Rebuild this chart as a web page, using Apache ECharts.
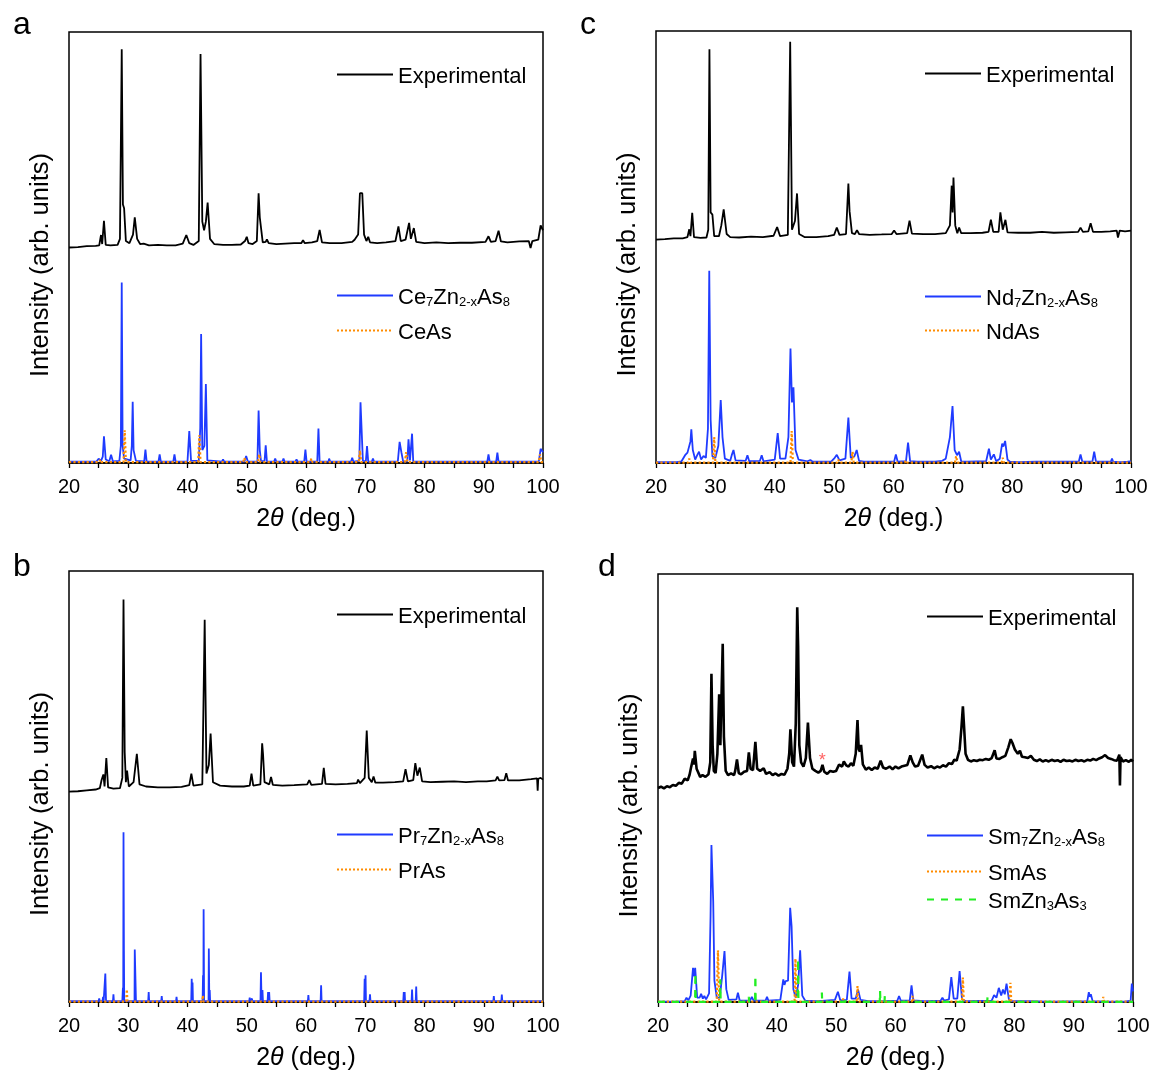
<!DOCTYPE html>
<html><head><meta charset="utf-8">
<script src="https://cdn.jsdelivr.net/npm/echarts@6/dist/echarts.min.js"></script>
<style>html,body{margin:0;padding:0;background:#fff}#c{width:1156px;height:1072px}</style>
</head><body><div id="c"></div>
<script>
// ---------- tick labels / axis ----------
const xTicks = [20, 30, 40, 50, 60, 70, 80, 90, 100];
const panelLetters = ['a', 'c', 'b', 'd'];

// ---------- panel a (Ce) ----------
const expA = [[20,50.0],[21.5,50.1],[23,50.3],[24.5,50.4],[25.1,50.5],[25.4,52.9],[25.6,50.8],[25.9,56.2],[26.2,50.6],[27,50.5],[28.2,50.6],[28.6,52],[28.9,96.0],[29.1,60],[29.3,59.1],[29.6,51.5],[30.2,51],[30.8,53],[31.1,57.0],[31.5,52],[32,50.8],[32.6,50.9],[33.5,50.5],[35,50.6],[36.5,50.5],[38,50.5],[39.2,50.9],[39.8,52.9],[40.3,51],[41,50.6],[41.9,51.5],[42.2,94.9],[42.5,56],[42.8,54],[43.1,56],[43.4,60.4],[43.8,52],[44.5,50.8],[46,50.6],[47.5,50.6],[49,50.7],[49.7,51.5],[50.0,52.5],[50.3,51],[51,50.8],[51.7,51.5],[52.0,62.6],[52.2,57],[52.3,56.8],[52.7,51.2],[53.2,51.3],[53.4,51.9],[53.7,51],[55,50.8],[56.5,50.9],[58,51],[59.2,51],[59.5,51.7],[59.8,51],[61,51.2],[61.9,51.5],[62.3,54.1],[62.7,51.2],[64,51],[66,51],[67.8,51.3],[68.2,51.8],[68.8,53],[69.1,62.6],[69.5,62.6],[69.8,53],[70.2,51.5],[70.5,52.5],[70.8,51.2],[72,51],[73.5,51.2],[75.1,51.5],[75.6,54.9],[76,51.5],[76.8,51.8],[77.4,55.7],[77.7,52],[78.2,54.5],[78.6,51.3],[80,51],[82,51.2],[84,51],[86,51.1],[88,51.1],[90.3,51.3],[90.8,52.6],[91.2,51.3],[92,51.5],[92.5,53.9],[92.9,51.4],[94,51.2],[96,51.4],[97.6,51.5],[97.9,49.9],[98.2,51.5],[99.2,51.8],[99.6,55.1],[100,54]];
const calcA = [[20,0.3],[24.6,0.3],[25.0,1.0],[25.4,0.5],[25.7,1.5],[25.9,6.2],[26.2,0.8],[26.8,0.4],[27.1,1.9],[27.4,0.4],[28.5,0.5],[28.75,4],[28.9,41.9],[29.05,4],[29.3,1],[30.4,0.6],[30.6,4],[30.75,14.2],[30.9,3],[31.3,0.5],[32.7,0.4],[32.9,3.1],[33.1,0.4],[35.1,0.3],[35.3,2.0],[35.5,0.3],[37.6,0.3],[37.8,2.0],[38.0,0.3],[40.0,0.4],[40.3,7.4],[40.6,0.5],[41.9,0.5],[42.15,8],[42.3,29.9],[42.5,3],[42.85,4],[43.1,18.3],[43.35,0.6],[45.8,0.3],[46.0,0.8],[46.2,0.3],[49.6,0.3],[49.9,1.6],[50.2,0.3],[51.8,0.4],[52.0,12.2],[52.2,3],[52.4,0.5],[53.0,0.4],[53.2,4.1],[53.4,0.4],[54.6,0.3],[54.8,1.0],[55,0.3],[56,0.3],[56.2,1.0],[56.4,0.3],[58.2,0.3],[58.4,0.8],[58.6,0.3],[59.7,0.3],[59.9,3.1],[60.1,0.3],[61.9,0.3],[62.1,8.0],[62.3,0.3],[63.8,0.3],[63.9,1],[64.1,0.3],[67.6,0.3],[67.8,1.2],[68,0.3],[69.0,0.5],[69.2,14.1],[69.4,14.1],[69.6,0.5],[70.1,0.4],[70.3,3.9],[70.5,0.3],[71.1,0.3],[71.3,1],[71.5,0.3],[75.5,0.4],[75.8,4.9],[76.1,2.5],[76.4,0.3],[77.1,0.4],[77.3,5.5],[77.55,0.6],[77.75,0.8],[77.9,6.8],[78.1,0.3],[79.8,0.3],[80.0,0.6],[80.2,0.3],[90.6,0.3],[90.8,2.0],[91.0,0.3],[92.1,0.3],[92.3,2.4],[92.5,0.3],[96.3,0.3],[96.5,0.6],[96.7,0.3],[99.3,0.4],[99.6,3.3],[100,2.5]];
const ceAs = [[20,0.2],[25.1,0.2],[25.3,0.8],[25.5,0.2],[29.2,0.2],[29.4,7.6],[29.6,0.2],[41.8,0.2],[42.0,6.4],[42.2,0.2],[49.4,0.2],[49.6,1.2],[49.8,0.2],[51.9,0.2],[52.1,2.0],[52.3,0.2],[60.7,0.2],[60.9,1.0],[61.1,0.2],[68.9,0.2],[69.1,2.9],[69.3,0.2],[76.7,0.2],[76.9,2.5],[77.1,0.2],[91.2,0.2],[91.4,0.5],[91.6,0.2],[99.3,0.2],[99.5,2.0],[99.7,0.2],[100,0.2]];

// ---------- panel c (Nd) ----------
const expC = [[20,51.7],[21.5,51.8],[23,52.0],[24.5,52.0],[25.3,52.3],[25.6,54.1],[25.8,52.5],[26.1,57.9],[26.4,52.3],[27.5,52.1],[28.5,52.2],[28.8,54],[29.0,95.8],[29.2,58],[29.5,57.5],[29.8,52.5],[30.6,52.5],[31.0,55],[31.4,58.7],[31.9,53],[32.5,52.3],[34,52.2],[36,52.4],[38,52.3],[39.8,52.6],[40.4,54.6],[40.9,52.5],[42.2,52.8],[42.6,97.5],[42.9,54],[43.4,56],[43.75,62.4],[44.1,53],[45,52.3],[47,52.3],[49,52.5],[50.0,52.8],[50.45,54.5],[50.9,52.8],[52.0,53],[52.4,64.7],[52.6,58.3],[53.0,53.2],[53.5,53],[53.85,53.9],[54.2,53],[56,52.8],[58,52.9],[59.7,53],[60.1,53.8],[60.5,53],[62.3,53.2],[62.7,56.1],[63.1,53.1],[65,53],[67,53],[68.8,53.2],[69.5,55],[69.8,64.2],[69.95,58],[70.1,66.1],[70.4,55],[70.75,53.2],[71.05,54.5],[71.4,53.2],[73,53.2],[75,53.3],[76.0,53.5],[76.4,56.3],[76.8,53.5],[77.7,53.5],[78.0,58.0],[78.4,54],[78.85,56.3],[79.2,53.4],[81,53.3],[83,53.3],[85,53.5],[87,53.3],[89,53.4],[91.1,53.5],[91.5,54.5],[91.9,53.5],[92.8,53.6],[93.2,55.5],[93.6,53.5],[95,53.5],[96.5,53.6],[97.6,53.8],[97.8,52.2],[98.1,53.8],[98.4,54],[99,53.6],[100,53.8]];
const calcC = [[20,0.2],[23.5,0.2],[24.3,0.4],[24.9,1.8],[25.3,2.4],[25.6,2.0],[25.8,5],[25.95,7.8],[26.2,3],[26.6,0.8],[27.0,2.0],[27.25,2.6],[27.6,0.8],[28.0,1.6],[28.4,1.2],[28.75,8],[28.97,44.5],[29.2,10],[29.5,1.5],[30.0,1.2],[30.5,4],[30.9,14.6],[31.2,6],[31.6,1],[32.5,0.5],[32.8,2],[33.05,3.0],[33.4,0.6],[35.1,0.5],[35.4,1.8],[35.7,0.4],[37.5,0.5],[37.8,1.8],[38.1,0.4],[40.0,0.8],[40.5,6.9],[40.9,1],[41.8,1],[42.3,6],[42.65,26.5],[42.9,14],[43.15,17.5],[43.5,3],[44.0,0.8],[45.5,0.4],[46.0,0.7],[46.4,0.3],[49.5,0.3],[50.1,1.2],[50.45,1.9],[50.9,0.6],[51.9,1],[52.4,10.5],[52.8,1.2],[53.4,1.5],[53.8,3.0],[54.2,0.5],[55.0,0.3],[55.2,0.7],[55.5,0.3],[56.3,0.3],[56.5,0.6],[56.8,0.3],[58.3,0.3],[58.6,0.5],[58.9,0.3],[60.1,0.3],[60.4,2.0],[60.7,0.3],[62.1,0.4],[62.45,4.7],[62.8,0.4],[64,0.3],[67,0.3],[68.2,0.5],[68.8,1],[69.5,6],[69.94,13.2],[70.3,3],[70.7,1.8],[71.05,2.6],[71.4,0.4],[72.0,0.3],[72.2,0.7],[72.5,0.3],[75.6,0.4],[76.07,3.3],[76.4,0.8],[76.9,2.0],[77.3,0.4],[77.9,1],[78.3,4.5],[78.5,3.8],[78.8,5.1],[79.2,0.8],[79.6,0.3],[81,0.2],[84,0.3],[91.2,0.3],[91.5,2.0],[91.8,0.3],[93.5,0.3],[93.8,2.6],[94.1,0.3],[96.6,0.3],[96.8,1.0],[97.0,0.3],[98.0,0.2],[98.2,0.5],[98.4,0.2],[99.4,0.3],[99.6,0.6],[100,0.4]];
const ndAs = [[20,0.1],[25.4,0.1],[25.6,1.0],[25.8,0.1],[29.6,0.1],[29.8,6.0],[30.0,0.1],[42.65,0.1],[42.85,7.4],[43.05,0.1],[50.5,0.1],[50.7,0.8],[50.9,0.1],[52.9,0.1],[53.1,2.6],[53.3,0.1],[61.9,0.1],[62.1,0.6],[62.3,0.1],[70.35,0.1],[70.55,1.6],[70.75,0.1],[78.2,0.1],[78.4,1.2],[78.6,0.1],[100,0.1]];

// ---------- panel b (Pr) ----------
const expB = [[20,48.8],[21.5,48.9],[23,49.1],[24.5,49.3],[25.2,49.6],[25.5,51.5],[25.8,52.8],[26.0,50],[26.3,56.6],[26.6,49.8],[27.5,49.5],[28.6,49.6],[29.0,52],[29.2,93.4],[29.4,58],[29.6,51],[29.8,53.7],[30.1,50],[30.9,51],[31.45,57.6],[31.9,50.5],[33,50],[35,49.8],[37,49.8],[39,49.9],[40.3,50.3],[40.65,53.0],[41,50.2],[42.5,50.5],[42.9,88.7],[43.2,53],[43.6,55],[43.9,62.3],[44.3,51],[45.5,50.2],[47.5,50],[49.5,50],[50.5,50.2],[50.8,53.0],[51.1,50.2],[52.3,50.5],[52.6,60.0],[52.75,57.5],[53.0,51],[53.8,50.5],[54.1,52.2],[54.4,50.4],[56,50.2],[58,50.3],[60.2,50.5],[60.55,51.5],[60.9,50.4],[62.7,50.6],[63.0,54.3],[63.3,50.6],[65,50.5],[67,50.6],[68.6,50.8],[68.8,51.6],[69.1,50.8],[69.9,52],[70.25,63.0],[70.6,52],[71.1,51],[71.4,52.3],[71.7,50.9],[73,50.9],[75,51],[76.4,51.2],[76.8,54.0],[77.2,51.2],[78.1,51.5],[78.45,55.4],[78.8,52.5],[79.2,54.4],[79.6,51.2],[81,51],[83,51.1],[85,51.2],[87,51],[89,51.2],[90.5,51.2],[92.0,51.4],[92.3,52.3],[92.6,51.4],[93.5,51.5],[93.8,53.1],[94.1,51.4],[96,51.4],[98,51.7],[99.0,51.9],[99.1,49.0],[99.2,51.8],[99.6,52],[100,51.6]];
const calcB = [[20,0.2],[22.5,0.2],[22.6,0.4],[22.7,0.2],[25.0,0.2],[25.1,0.8],[25.2,0.2],[25.65,0.2],[25.75,1.2],[25.85,0.2],[26.05,0.2],[26.13,6.6],[26.25,0.2],[27.42,0.2],[27.5,1.8],[27.58,0.2],[29.0,0.2],[29.1,3.3],[29.15,0.3],[29.2,39.4],[29.27,12],[29.32,0.2],[31.06,0.2],[31.1,12.2],[31.25,12.2],[31.3,0.2],[33.37,0.2],[33.45,2.3],[33.53,0.2],[35.57,0.2],[35.65,1.4],[35.73,0.2],[38.07,0.2],[38.15,1.2],[38.23,0.2],[40.63,0.2],[40.71,5.4],[40.8,0.3],[40.85,4.5],[40.92,0.2],[42.55,0.2],[42.62,6.2],[42.68,0.3],[42.72,21.5],[42.8,0.2],[43.55,0.2],[43.6,12.4],[43.68,0.3],[43.75,2.8],[43.82,0.2],[46.2,0.2],[46.3,0.5],[46.4,0.2],[50.42,0.2],[50.5,1.0],[50.58,0.2],[50.8,0.2],[50.88,0.8],[50.96,0.2],[52.32,0.2],[52.4,6.9],[52.5,0.3],[52.65,2.8],[52.73,0.2],[53.52,0.2],[53.6,2.3],[53.68,0.3],[53.78,2.3],[53.86,0.2],[54.9,0.2],[55.0,0.5],[55.1,0.2],[56.55,0.2],[56.63,0.6],[56.71,0.2],[58.1,0.2],[58.2,0.4],[58.3,0.2],[58.9,0.2],[59.0,0.4],[59.1,0.2],[60.32,0.2],[60.4,1.6],[60.48,0.2],[62.47,0.2],[62.55,3.9],[62.63,0.2],[68.0,0.2],[68.1,0.6],[68.2,0.2],[69.82,0.2],[69.9,5.4],[69.97,0.3],[70.05,6.2],[70.12,0.2],[70.72,0.2],[70.8,1.8],[70.88,0.2],[71.9,0.2],[72.0,0.3],[72.1,0.2],[76.42,0.2],[76.5,2.3],[76.57,0.3],[76.65,2.3],[76.72,0.2],[77.82,0.2],[77.9,2.9],[77.98,0.2],[78.52,0.2],[78.6,3.6],[78.68,0.2],[80.4,0.2],[80.5,0.3],[80.6,0.2],[91.62,0.2],[91.7,1.4],[91.78,0.2],[92.97,0.2],[93.05,1.7],[93.13,0.2],[97.3,0.2],[97.4,0.4],[97.5,0.2],[98.5,0.2],[98.6,0.3],[98.7,0.2],[100,0.2]];
const prAs = [[20,0.1],[29.66,0.1],[29.76,2.9],[29.86,0.1],[42.5,0.1],[42.6,1.5],[42.7,0.1],[50.2,0.1],[50.3,0.3],[50.4,0.1],[61.5,0.1],[61.6,0.3],[61.7,0.1],[69.6,0.1],[69.7,0.3],[69.8,0.1],[100,0.1]];

// ---------- panel d (Sm) ----------
const expD = [[20,50.0],[20.5,50.3],[21,49.9],[21.5,50.4],[22,50.2],[22.5,50.7],[23,50.5],[23.5,51.2],[24,51.0],[24.5,52.2],[25.0,51.8],[25.3,53],[25.6,55],[25.9,56.9],[26.05,55.5],[26.2,58.7],[26.5,54.5],[26.8,54.2],[27.1,52.6],[27.5,53.0],[28.0,52.6],[28.5,53.2],[28.8,56],[29.0,76.7],[29.2,60],[29.4,54],[29.7,53.5],[30.0,58],[30.3,71.9],[30.5,60],[30.7,60],[30.9,83.7],[31.1,62],[31.4,54],[31.8,53],[32.3,53.4],[32.8,53],[33.0,54],[33.3,56.7],[33.6,53.5],[34.0,53.2],[34.5,53.8],[35.0,54],[35.3,58.3],[35.6,54.5],[36.0,54.2],[36.4,60.8],[36.7,54.5],[37.2,54],[37.8,54.6],[38.2,53.3],[38.8,53.7],[39.3,53],[39.8,53.4],[40.3,52.9],[40.8,53.3],[41.3,53.1],[41.8,54.5],[42.1,58],[42.3,63.7],[42.6,56],[42.9,55],[43.2,65],[43.45,92.2],[43.6,83],[43.8,60],[44.1,56],[44.5,55],[44.9,57],[45.25,65.3],[45.6,57],[46.0,54.5],[46.5,54],[47.0,53.6],[47.4,54],[47.7,55.4],[48.0,53.8],[48.5,53.3],[49.0,54],[49.5,53.8],[50.0,54],[50.5,55.5],[51.0,55],[51.3,56.2],[51.7,55.3],[52.1,55],[52.5,55.8],[52.9,55.2],[53.3,58],[53.6,65.9],[53.8,59],[54.0,58.5],[54.2,60.1],[54.5,55.5],[55.0,54.3],[55.5,54.8],[56.0,54.2],[56.5,54.8],[57.0,54.5],[57.5,56.4],[57.9,54.8],[58.4,54.5],[59.0,55.0],[59.5,54.4],[60.0,55],[60.5,54.6],[61.0,55],[61.5,55.2],[62.0,55.4],[62.5,57.6],[62.9,56.0],[63.3,55.0],[63.8,55.2],[64.5,57.8],[64.9,55.4],[65.4,54.8],[66.0,55.1],[66.5,54.6],[67.0,55.0],[67.5,54.8],[68.0,55.3],[68.5,55.0],[69.0,55.8],[69.5,55.6],[69.9,56.6],[70.3,56.4],[70.8,59],[71.1,64],[71.35,69.1],[71.55,64.3],[71.8,58],[72.2,56.6],[72.7,56.2],[73.2,56.5],[73.7,56.3],[74.2,56.6],[74.7,56.5],[75.2,56.8],[75.7,56.6],[76.2,57],[76.7,58.8],[77.0,56.9],[77.5,56.8],[78.0,57.2],[78.5,57.5],[79.0,59.5],[79.4,61.4],[79.7,60.5],[80.1,59],[80.6,58],[80.96,58.7],[81.3,57.3],[81.8,57.2],[82.3,57],[82.8,57.5],[83.3,56.6],[83.8,56.3],[84.3,56.7],[84.8,56.2],[85.3,56.5],[85.8,56.2],[86.3,56.6],[86.8,56.3],[87.3,56.5],[87.8,56.1],[88.3,56.6],[88.8,56.3],[89.3,56.4],[89.8,56.2],[90.3,56.6],[90.8,56.3],[91.3,56.5],[91.8,56.2],[92.3,56.6],[92.8,56.4],[93.3,56.8],[93.8,56.5],[94.3,56.9],[94.8,57.2],[95.3,57.7],[95.8,57],[96.3,56.8],[96.8,56.5],[97.3,56.4],[97.7,57.8],[97.8,50.6],[97.9,57.2],[98.3,56.2],[98.8,56.5],[99.3,56.1],[99.7,56.6],[100,56.2]];
const calcD = [[20,0.1],[22.8,0.1],[23.0,0.3],[23.2,0.1],[24.5,0.2],[24.8,1.0],[25.1,0.4],[25.5,1.5],[25.9,8.0],[26.1,6],[26.26,8.0],[26.6,1],[27.0,1],[27.26,1.9],[27.55,0.8],[27.8,1.4],[28.1,0.6],[28.6,2],[28.85,20],[29.0,36.7],[29.3,23.5],[29.5,5],[29.9,1],[30.4,1],[30.8,6],[31.2,11.9],[31.5,3],[31.9,0.5],[33.2,0.6],[33.46,2.2],[33.75,0.4],[35.5,0.3],[35.8,1.2],[36.1,0.3],[38.1,0.3],[38.36,1.2],[38.6,0.3],[40.6,0.5],[41.1,5.3],[41.3,4],[41.5,4.9],[41.9,5],[42.26,22.0],[42.5,17.7],[42.8,3],[43.2,1],[43.6,4],[43.94,12.1],[44.3,1.5],[44.8,0.3],[46.7,0.2],[46.9,0.5],[47.1,0.2],[49.8,0.5],[50.3,2.4],[50.7,0.4],[51.8,0.5],[52.25,7.1],[52.6,0.8],[53.3,0.8],[53.7,2.9],[54.1,0.5],[55.4,0.2],[55.6,0.6],[55.8,0.2],[57.7,0.2],[57.9,0.5],[58.1,0.2],[60.3,0.3],[60.6,1.4],[60.9,0.3],[62.4,0.4],[62.7,3.9],[63.0,0.4],[64.8,0.2],[65.0,0.5],[65.2,0.2],[67.6,0.3],[67.9,1.0],[68.2,0.3],[69.0,0.6],[69.4,5.8],[69.8,0.8],[70.4,0.8],[70.8,7.2],[71.2,0.6],[71.8,0.2],[72.0,0.4],[72.2,0.2],[76.2,0.3],[76.6,1.6],[77.0,1],[77.4,3.3],[77.8,1.5],[78.1,2.9],[78.4,1.8],[78.7,4.3],[79.1,0.6],[79.6,0.2],[82.1,0.2],[82.3,0.4],[82.5,0.2],[85.7,0.1],[85.9,0.3],[86.1,0.1],[92.3,0.2],[92.56,2.3],[92.75,1.2],[92.9,1.8],[93.2,0.2],[95.4,0.1],[95.6,0.4],[95.8,0.1],[98.2,0.1],[98.4,0.5],[98.6,0.1],[99.6,0.3],[99.8,4.3],[100,2.5]];
const smAs = [[20,0.1],[29.9,0.1],[30.1,12.1],[30.3,0.1],[43.0,0.1],[43.15,10.1],[43.3,0.1],[51.0,0.1],[51.2,0.8],[51.4,0.1],[53.45,0.1],[53.6,3.7],[53.75,0.1],[62.75,0.1],[62.9,1.4],[63.05,0.1],[71.2,0.1],[71.35,5.7],[71.5,0.1],[79.2,0.1],[79.35,4.5],[79.5,0.1],[84.9,0.1],[85.0,0.3],[85.1,0.1],[94.85,0.1],[95.0,1.2],[95.15,0.1],[100,0.1]];
const smZn3As3 = [[20,0.05],[26.25,0.05],[26.3,6.8],[26.35,0.05],[30.45,0.05],[30.5,5.3],[30.55,0.05],[33.05,0.05],[33.1,0.5],[33.15,0.05],[35.25,0.05],[35.3,1.2],[35.35,0.05],[36.35,0.05],[36.4,6.2],[36.45,0.05],[43.55,0.05],[43.6,10.1],[43.65,0.05],[47.55,0.05],[47.6,2.2],[47.65,0.05],[51.55,0.05],[51.6,0.7],[51.65,0.05],[57.35,0.05],[57.4,2.6],[57.45,0.05],[58.15,0.05],[58.2,1.4],[58.25,0.05],[75.45,0.05],[75.5,1.2],[75.55,0.05],[90.55,0.05],[90.6,0.3],[90.65,0.05],[100,0.05]];
const starMark = [[47.65, 56.2]];

// ---------- styling / layout ----------
const FONT = 'Liberation Sans, Arial, Helvetica, sans-serif';
const BLUE = '#1f3bff', ORANGE = '#ff8c00', GREEN = '#22ee22';
const grids = [
  {left: 69, top: 32, width: 474, height: 431},
  {left: 656, top: 31, width: 475, height: 432},
  {left: 69, top: 571, width: 474, height: 432},
  {left: 658, top: 574, width: 475, height: 429}
];

function fmt(name) {
  const base = name.replace(/ \([a-d]\)$/, '');
  if (base === 'Experimental') return '{n|Experimental}{s| }';
  let r = base.replace(/(2-x|\d+)|([A-Za-z]+)/g, (m, d, w) => d ? '{s|' + d + '}' : '{n|' + w + '}');
  if (!/\d$/.test(base)) r += '{s| }';
  return r;
}
const legendText = {
  color: '#000', fontFamily: FONT, fontSize: 22,
  rich: {
    n: {fontSize: 22, fontFamily: FONT, color: '#000', lineHeight: 27, verticalAlign: 'bottom'},
    s: {fontSize: 13, fontFamily: FONT, color: '#000', lineHeight: 13, padding: [18, 0, 0, 0], verticalAlign: 'bottom'}
  }
};
function legend(left, top, name) {
  return {left, top, orient: 'vertical', itemWidth: 56, itemHeight: 14, itemGap: 0,
    selectedMode: false, formatter: fmt, textStyle: legendText, data: [name], padding: 0,
    itemStyle: {opacity: 0}};
}

const xAxes = grids.map((g, i) => ({
  type: 'value', gridIndex: i, min: 20, max: 100, interval: 10,
  axisLine: {show: true, lineStyle: {color: '#000', width: 1.5}},
  axisTick: {show: true, inside: false, length: 5, lineStyle: {color: '#000', width: 1.3}},
  minorTick: {show: true, splitNumber: 2, length: 5, lineStyle: {color: '#000', width: 1.3}},
  splitLine: {show: false}, minorSplitLine: {show: false},
  axisLabel: {color: '#000', fontSize: 20, fontFamily: FONT, margin: 14,
    formatter: v => xTicks.includes(v) ? String(v) : ''},
  name: '2{i|θ} (deg.)', nameLocation: 'middle', nameGap: 44,
  nameTextStyle: {color: '#000', fontSize: 25, fontFamily: FONT,
    rich: {i: {fontSize: 25, fontStyle: 'italic', fontFamily: FONT, color: '#000'}}}
}));
const yAxes = grids.map((g, i) => ({
  type: 'value', gridIndex: i, min: 0, max: 100,
  axisLine: {show: false}, axisTick: {show: false}, axisLabel: {show: false}, splitLine: {show: false},
  name: 'Intensity (arb. units)', nameLocation: 'middle', nameGap: 15,
  nameTextStyle: {color: '#000', fontSize: 25.5, fontFamily: FONT, padding: [0, 35, 0, 0]}
}));

function line(name, idx, data, color, width, type) {
  return {name, type: 'line', xAxisIndex: idx, yAxisIndex: idx, data, symbol: 'none', showSymbol: false,
    lineStyle: {color, width, type: type || 'solid'}, itemStyle: {color}, silent: true, animation: false};
}

const option = {
  animation: false,
  title: [
    {text: panelLetters[0], left: 8, top: 4},
    {text: panelLetters[1], left: 575, top: 4},
    {text: panelLetters[2], left: 8, top: 546},
    {text: panelLetters[3], left: 593, top: 546}
  ].map(t => Object.assign(t, {textStyle: {fontSize: 32, fontWeight: 'normal', color: '#000', fontFamily: FONT}})),
  grid: grids.map(g => Object.assign({show: true, borderColor: '#000', borderWidth: 1.5, backgroundColor: 'transparent'}, g)),
  xAxis: xAxes,
  yAxis: yAxes,
  legend: [
    legend(336, 57, 'Experimental (a)'),
    legend(336, 278, 'Ce7Zn2-xAs8'),
    legend(336, 313, 'CeAs'),
    legend(924, 56, 'Experimental (c)'),
    legend(924, 279, 'Nd7Zn2-xAs8'),
    legend(924, 313, 'NdAs'),
    legend(336, 597, 'Experimental (b)'),
    legend(336, 817, 'Pr7Zn2-xAs8'),
    legend(336, 852, 'PrAs'),
    legend(926, 599, 'Experimental (d)'),
    legend(926, 818, 'Sm7Zn2-xAs8'),
    legend(926, 854, 'SmAs'),
    legend(926, 882, 'SmZn3As3')
  ],
  series: [
    line('Experimental (a)', 0, expA, '#000', 1.8),
    line('Ce7Zn2-xAs8', 0, calcA, BLUE, 1.8),
    line('CeAs', 0, ceAs, ORANGE, 2.2, 'dotted'),
    line('Experimental (c)', 1, expC, '#000', 1.8),
    line('Nd7Zn2-xAs8', 1, calcC, BLUE, 1.8),
    line('NdAs', 1, ndAs, ORANGE, 2.2, 'dotted'),
    line('Experimental (b)', 2, expB, '#000', 1.8),
    line('Pr7Zn2-xAs8', 2, calcB, BLUE, 1.8),
    line('PrAs', 2, prAs, ORANGE, 2.2, 'dotted'),
    line('Experimental (d)', 3, expD, '#000', 2.6),
    line('Sm7Zn2-xAs8', 3, calcD, BLUE, 1.8),
    line('SmAs', 3, smAs, ORANGE, 2.2, 'dotted'),
    line('SmZn3As3', 3, smZn3As3, GREEN, 2.2, [7, 7]),
    {type: 'scatter', xAxisIndex: 3, yAxisIndex: 3, data: starMark, symbolSize: 1, silent: true,
      itemStyle: {color: 'rgba(0,0,0,0)'},
      label: {show: true, position: 'inside', formatter: '*', color: '#ff3b3b', fontSize: 18, fontFamily: FONT}}
  ]
};
const chart = echarts.init(document.getElementById('c'), null, {renderer: 'canvas'});
chart.setOption(option);
</script></body></html>
